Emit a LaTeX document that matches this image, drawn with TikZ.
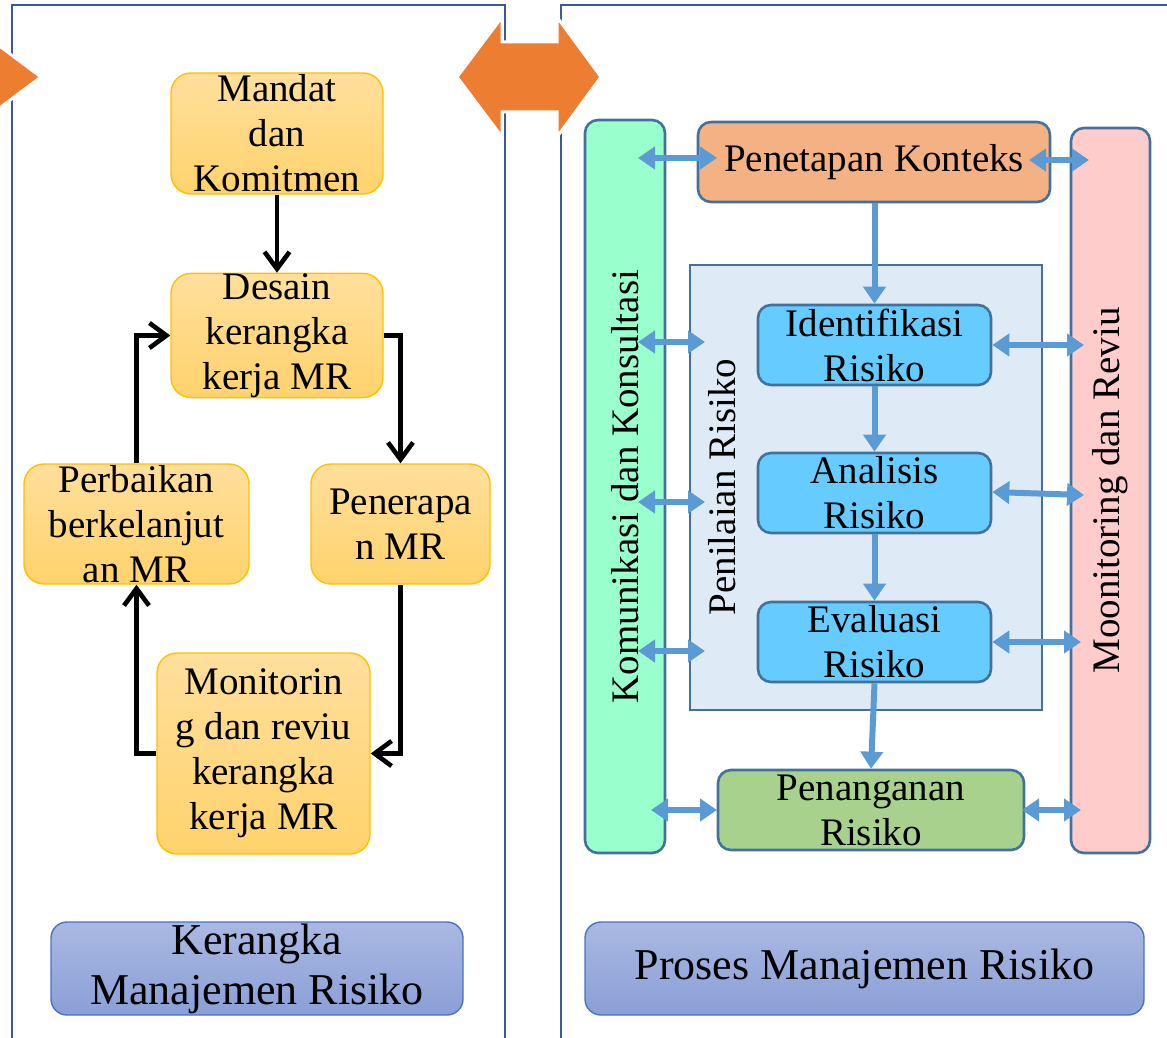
\documentclass[tikz,border=0pt]{standalone}
\usepackage{fontspec}
\setmainfont{Liberation Serif}
\usetikzlibrary{arrows.meta}

\definecolor{panelline}{HTML}{3A5A9A}
\definecolor{orangearrow}{HTML}{ED7D31}
\definecolor{fwtop}{HTML}{FFDF9C}
\definecolor{fwbot}{HTML}{FFD26C}
\definecolor{fwline}{HTML}{FFC000}
\definecolor{captop}{HTML}{AAB9E2}
\definecolor{capbot}{HTML}{8A9FD7}
\definecolor{capline}{HTML}{4A72C0}
\definecolor{prline}{HTML}{41719C}
\definecolor{komfill}{HTML}{99FFCC}
\definecolor{monfill}{HTML}{FFCCCC}
\definecolor{ctxfill}{HTML}{F4B183}
\definecolor{assessfill}{HTML}{DEEBF7}
\definecolor{stepfill}{HTML}{66CCFF}
\definecolor{treatfill}{HTML}{A9D18E}
\definecolor{flowblue}{HTML}{5B9BD5}

\tikzset{
  txt/.style={font=\fontsize{39}{45}\selectfont},
  fwbox/.style={txt, draw=fwline, line width=1.4pt, rounded corners=20pt,
    top color=fwtop, bottom color=fwbot, align=center, inner sep=0pt},
  capbox/.style={font=\fontsize{44}{50}\selectfont, draw=capline, line width=1.4pt,
    rounded corners=16pt, top color=captop, bottom color=capbot, align=center, inner sep=0pt},
  prbox/.style={txt, draw=prline, line width=2.6pt, rounded corners=13pt,
    align=center, inner sep=0pt},
  blk/.style={draw=black, line width=4.6pt, -{Straight Barb[length=17pt,width=25pt]}},
  flow/.style={draw=flowblue, line width=6pt, -{Triangle[length=17pt,width=22pt]}},
  dbl/.style={draw=flowblue, line width=6pt, {Triangle[length=17pt,width=22pt]}-{Triangle[length=17pt,width=22pt]}},
  bigarrow/.style={fill=orangearrow, draw=white, line width=3pt, line join=miter},
}

\begin{document}
\begin{tikzpicture}[x=1pt, y=-1pt]
\useasboundingbox (0,0) rectangle (1167,1038);
\clip (0,0) rectangle (1167,1038);

% panel frames
\draw[panelline, line width=2.6pt] (12,1045) -- (12,5) -- (505,5) -- (505,1045);
\draw[panelline, line width=2.6pt] (561,1045) -- (561,5) -- (1175,5);

% orange arrows between the panels
\fill[bigarrow] (457,77) -- (502,17) -- (502,42) -- (557,42) -- (557,17) -- (601,77)
  -- (557,137) -- (557,112) -- (502,112) -- (502,137) -- cycle;
\fill[bigarrow] (-30,24) -- (41,77) -- (-30,130) -- cycle;

% framework cycle
\node[fwbox, minimum width=212pt, minimum height=121pt] (mandat) at (277,133.5) {Mandat\\dan\\Komitmen};
\node[fwbox, minimum width=212pt, minimum height=121pt] (desain) at (277,335.5) {Desain\\kerangka\\kerja MR};
\node[fwbox, minimum width=225pt, minimum height=120pt] (perbaikan) at (136.5,524) {Perbaikan\\berkelanjut\\an MR};
\node[fwbox, minimum width=179pt, minimum height=120pt] (penerapan) at (400.5,524) {Penerapa\\n MR};
\node[fwbox, minimum width=213pt, minimum height=201pt] (monitor) at (263.5,753.5) {Monitorin\\g dan reviu\\kerangka\\kerja MR};

\draw[blk] (mandat.south) -- (desain.north);
\draw[blk] (desain.east) -| (penerapan.north);
\draw[blk] (penerapan.south) |- (monitor.east);
\draw[blk] (monitor.west) -| (perbaikan.south);
\draw[blk] (perbaikan.north) |- (desain.west);

% captions
\node[capbox, minimum width=412pt, minimum height=93pt] (capleft) at (257,968.5) {Kerangka\\Manajemen Risiko};
\node[capbox, minimum width=559pt, minimum height=93pt] (capright) at (864.5,968.5) {Proses Manajemen Risiko};

% risk management process
\node[prbox, fill=komfill, rotate=90, minimum width=733pt, minimum height=80pt] (kom) at (625,486.5) {Komunikasi dan Konsultasi};
\node[prbox, fill=monfill, rotate=90, minimum width=725pt, minimum height=79pt] (mon) at (1110.5,490.5) {Moonitoring dan Reviu};
\node[draw=prline, line width=2.2pt, fill=assessfill, minimum width=352pt, minimum height=445pt, inner sep=0pt] (assess) at (866,487.5) {};
\node[txt, rotate=90] (assesslabel) at (722,487) {Penilaian Risiko};
\node[prbox, fill=ctxfill, minimum width=352pt, minimum height=80pt] (ctx) at (874,162) {Penetapan Konteks};
\node[prbox, fill=stepfill, minimum width=233pt, minimum height=80pt] (ident) at (874.5,345) {Identifikasi\\Risiko};
\node[prbox, fill=stepfill, minimum width=233pt, minimum height=80pt] (anal) at (874.5,493) {Analisis\\Risiko};
\node[prbox, fill=stepfill, minimum width=233pt, minimum height=80pt] (eval) at (874.5,642) {Evaluasi\\Risiko};
\node[prbox, fill=treatfill, minimum width=306pt, minimum height=80pt] (treat) at (871,810) {Penanganan\\Risiko};

% main flow
\draw[flow] (ctx.south -| ident.north) -- (ident.north);
\draw[flow] (ident.south) -- (anal.north);
\draw[flow] (anal.south) -- (eval.north);
\draw[flow] (eval.south) -- (treat.north);

% communication links
\coordinate (kctx) at (638,158);
\coordinate (ctxin) at (717,158);
\coordinate (kid) at (638,342);
\coordinate (aid) at (705,342);
\coordinate (kan) at (638,502);
\coordinate (aan) at (705,502);
\coordinate (kev) at (638,651);
\coordinate (aev) at (705,651);
\coordinate (ktr) at (651,810);
\coordinate (trin) at (717,810);
\draw[dbl] (kctx) -- (ctxin);
\draw[dbl] (kid) -- (aid);
\draw[dbl] (kan) -- (aan);
\draw[dbl] (kev) -- (aev);
\draw[dbl] (ktr) -- (trin);

% monitoring links
\coordinate (ctxout) at (1029,160);
\coordinate (mctx) at (1089,160);
\coordinate (mid) at (1084,345);
\coordinate (man) at (1084,495);
\coordinate (mev) at (1081,642);
\coordinate (trout) at (1022,810);
\coordinate (mtr) at (1081,810);
\draw[dbl] (ctxout) -- (mctx);
\draw[dbl] (ident.east) -- (mid);
\draw[dbl] ([yshift=1pt]anal.east) -- (man);
\draw[dbl] (eval.east) -- (mev);
\draw[dbl] (trout) -- (mtr);
\end{tikzpicture}
\end{document}
